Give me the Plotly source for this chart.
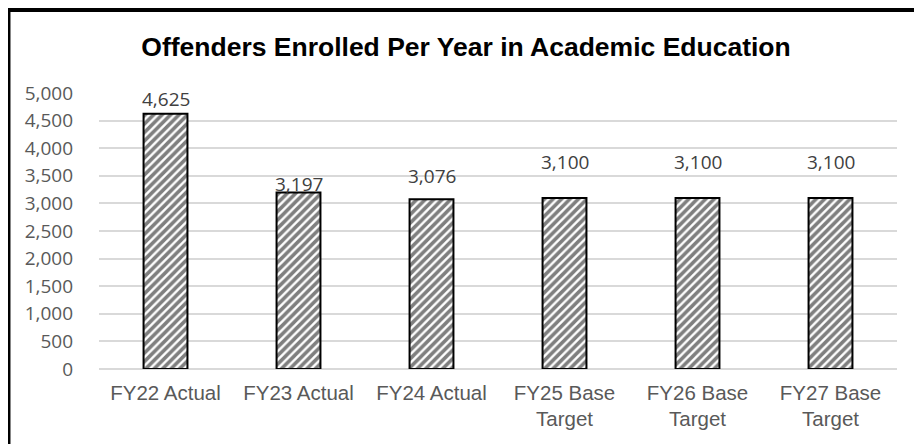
import plotly.graph_objects as go

categories = ["FY22 Actual", "FY23 Actual", "FY24 Actual",
              "FY25 Base<br>Target", "FY26 Base<br>Target", "FY27 Base<br>Target"]
values = [4625, 3197, 3076, 3100, 3100, 3100]
value_labels = ["4,625", "3,197", "3,076", "3,100", "3,100", "3,100"]
label_shift = [15, 9, 23, 36, 36, 36]
y_ticks = list(range(0, 5001, 500))

fig = go.Figure()
fig.add_trace(go.Bar(
    x=categories, y=values, width=0.33,
    marker=dict(color="white",
                line=dict(color="black", width=2),
                pattern=dict(shape="/", fgcolor="black", bgcolor="white",
                             size=6, solidity=0.6)),
    hoverinfo="skip",
))

for c, v, t, s in zip(categories, values, value_labels, label_shift):
    fig.add_annotation(x=c, y=v, text=t, showarrow=False, yanchor="middle",
                       yshift=s, font=dict(family="Open Sans", size=19, color="#404040"))

fig.add_shape(type="rect", xref="paper", yref="paper",
              x0=-0.1147, x1=1.1, y0=-0.5, y1=1.3043,
              line=dict(color="black", width=6), fillcolor="rgba(0,0,0,0)", layer="above")

fig.update_layout(
    width=922, height=444,
    margin=dict(l=91, r=33, t=85, b=83),
    paper_bgcolor="white", plot_bgcolor="white",
    showlegend=False,
    title=dict(text="<b>Offenders Enrolled Per Year in Academic Education</b>",
               x=(466 - 8) / 922, xanchor="center", y=1 - 39 / 444, yanchor="middle",
               font=dict(family="Liberation Sans, Arial", size=26.5, color="black")),
    xaxis=dict(showline=False, tickfont=dict(family="Liberation Sans, Arial", size=20.5, color="#595959"),
               ticks="", ticklabelstandoff=9, fixedrange=True),
    yaxis=dict(range=[0, 5000], tickvals=y_ticks, tickformat=",",
               showgrid=True, gridcolor="#d9d9d9", gridwidth=1.5,
               zeroline=True, zerolinecolor="#d9d9d9", zerolinewidth=1.5,
               ticks="", ticklabelstandoff=25,
               tickfont=dict(family="Open Sans", size=19, color="#595959"), fixedrange=True),
)

fig.write_html("out.html")
